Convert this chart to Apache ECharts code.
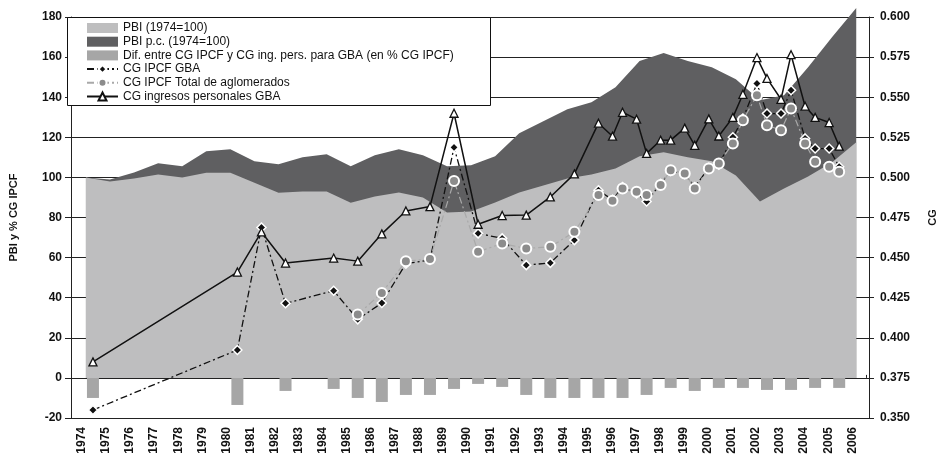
<!DOCTYPE html>
<html><head><meta charset="utf-8">
<script src="https://cdn.jsdelivr.net/npm/echarts@6/dist/echarts.min.js"></script>
<style>html,body{margin:0;padding:0;background:#fff}#c{width:948px;height:468px}</style>
</head><body><div id="c"></div>
<script>
// ---------- data ----------
const yearLabels = [1974,1975,1976,1977,1978,1979,1980,1981,1982,1983,1984,1985,1986,1987,1988,1989,1990,
  1991,1992,1993,1994,1995,1996,1997,1998,1999,2000,2001,2002,2003,2004,2005,2006];
const areaYears = yearLabels;
// upper (dark) area
const pbiPcValues = [100,99,102.5,107,105.5,113,114,108,106.5,110,111.5,105.5,111,114,111,105.5,106,110.5,
  122,128,134,137.5,145,158,162,158,155,149,138.5,141,155,170,184.5];
// lower (light) area
const pbiValues = [100,98,99.5,101.5,100,102.3,102.3,97.3,92.3,93,93,87.3,90.5,92.5,90,82.5,83,87.5,
  92.5,96,99.5,101.5,104.5,110.5,112.5,110,108,101,88,94.5,100.5,107.5,117.5];

const obsDates = ['1974-10','1980-10','1981-10','1982-10','1984-10','1985-10','1986-10','1987-10','1988-10',
  '1989-10','1990-10','1991-10','1992-10','1993-10','1994-10','1995-10',
  '1996-05','1996-10','1997-05','1997-10','1998-05','1998-10','1999-05','1999-10','2000-05','2000-10',
  '2001-05','2001-10','2002-05','2002-10','2003-05','2003-10','2004-05','2004-10','2005-05','2005-10'];
const cgIngPersGBA = [0.385,0.441,0.466,0.4466,0.4497,0.4478,0.4648,0.4791,0.4818,0.540,0.4708,0.4762,
  0.4765,0.4878,0.5022,0.5338,0.5257,0.5406,0.5363,0.515,0.5232,0.5232,0.5307,0.520,0.5365,0.5258,
  0.5374,0.5518,0.5747,0.5617,0.5487,0.5765,0.5444,0.5374,0.5342,0.5195];
const cgIpcfGBA = [0.355,0.3924,0.4688,0.4215,0.4293,0.4115,0.4217,0.4462,0.4485,0.5187,0.4651,0.4620,
  0.4453,0.4467,0.4609,0.492,0.486,0.494,0.490,0.485,0.496,0.504,0.502,0.494,0.506,0.508,
  0.525,0.5367,0.5585,0.5398,0.5398,0.5543,0.5243,0.518,0.518,0.5066];

const totalDates = ['1985-10','1986-10','1987-10','1988-10','1989-10','1990-10','1991-10','1992-10','1993-10',
  '1994-10','1995-10','1996-05','1996-10','1997-05','1997-10','1998-05','1998-10','1999-05','1999-10',
  '2000-05','2000-10','2001-05','2001-10','2002-05','2002-10','2003-05','2003-10','2004-05','2004-10',
  '2005-05','2005-10'];
const cgIpcfTotal = [0.4145,0.428,0.4478,0.4491,0.4978,0.4536,0.4588,0.4557,0.4567,0.4661,0.489,0.4854,
  0.4931,0.491,0.489,0.4952,0.5045,0.5025,0.4931,0.5056,0.5087,0.5212,0.5357,0.5512,0.5325,0.5294,
  0.543,0.5212,0.5097,0.5066,0.5035];

const difDates = ['1974-10','1980-10','1981-10','1982-10','1984-10','1985-10','1986-10','1987-10','1988-10',
  '1989-10','1990-10','1991-10','1992-10','1993-10','1994-10','1995-10','1996-10','1997-10','1998-10',
  '1999-10','2000-10','2001-10','2002-10','2003-10','2004-10','2005-10'];
const difValues = [-10,-13.5,0,-6.5,-5.5,-10,-12,-8.5,-8.5,-5.5,-3,-4.5,-8.5,-10,-10,-10,-10,-8.5,-5,
  -6.5,-5,-5,-6,-6,-5,-5];

const leftTicks = {min:-20, max:180, step:20};
const rightTicks = {min:0.35, max:0.6, step:0.025};

// ---------- helpers ----------
const toT = s => { const [y, m] = s.split('-').map(Number); return y + (m - 0.5) / 12; };
const LABEL_SHIFT = 0.335;
const FONT = 'Liberation Sans, Arial, sans-serif';
const LIGHT = '#bebebf', DARK = '#5f5f61', BAR = '#a6a6a6';

const names = {
  pbi: 'PBI (1974=100)',
  pbipc: 'PBI p.c. (1974=100)',
  dif: 'Dif. entre CG IPCF y CG ing. pers. para GBA (en % CG IPCF)',
  gba: 'CG IPCF GBA',
  tot: 'CG IPCF Total de aglomerados',
  ing: 'CG ingresos personales GBA'
};

const chart = echarts.init(document.getElementById('c'), null, {renderer:'canvas'});
const xMin = 1973.88, xMax = 2007.03;

chart.setOption({
  animation: false,
  backgroundColor: '#fff',
  grid: {left: 67, right: 79, top: 17, bottom: 50, containLabel: false},
  xAxis: [
    {type:'value', min:xMin, max:xMax, position:'bottom',
     axisLine:{show:true, onZero:false, lineStyle:{color:'#222', width:1}},
     axisTick:{show:false},
     splitLine:{show:false},
     axisLabel:{show:true, customValues: yearLabels.map(y => y + LABEL_SHIFT), rotate:90, margin:9,
       fontFamily:FONT, fontWeight:'bold', fontSize:12, color:'#111',
       formatter: v => String(Math.round(v - LABEL_SHIFT))}},
    {type:'value', min:xMin, max:xMax, position:'bottom',
     axisLine:{show:true, onZero:true, lineStyle:{color:'#222', width:1}},
     axisTick:{show:true, inside:true, length:3, customValues: yearLabels.map(y => y + 0.92), lineStyle:{color:'#222'}},
     axisLabel:{show:false}, splitLine:{show:false}}
  ],
  yAxis: [
    {type:'value', min:leftTicks.min, max:leftTicks.max, interval:leftTicks.step, position:'left',
     name:'PBI y % CG IPCF', nameLocation:'middle', nameRotate:90, nameGap:52,
     nameTextStyle:{fontFamily:FONT, fontWeight:'bold', fontSize:11, color:'#111'},
     axisLine:{show:true, lineStyle:{color:'#222', width:1}},
     axisTick:{show:true, length:6, lineStyle:{color:'#222'}},
     axisLabel:{margin:9, fontFamily:FONT, fontWeight:'bold', fontSize:12, color:'#111'},
     splitLine:{show:true, lineStyle:{color:'#222', width:1}}},
    {type:'value', min:rightTicks.min, max:rightTicks.max, interval:rightTicks.step, position:'right',
     name:'CG', nameLocation:'middle', nameRotate:90, nameGap:58,
     nameTextStyle:{fontFamily:FONT, fontWeight:'bold', fontSize:11, color:'#111'},
     axisLine:{show:true, lineStyle:{color:'#222', width:1}},
     axisTick:{show:true, length:5, lineStyle:{color:'#222'}},
     axisLabel:{margin:11, fontFamily:FONT, fontWeight:'bold', fontSize:12, color:'#111',
       formatter: v => v.toFixed(3)},
     splitLine:{show:false}}
  ],
  legend: {
    orient:'vertical', left:86, top:22, padding:0, itemGap:1.7, itemWidth:31, itemHeight:10,
    selectedMode:false,
    textStyle:{fontFamily:FONT, fontSize:12, color:'#111', lineHeight:11},
    data:[
      {name:names.pbi, icon:'rect'},
      {name:names.pbipc, icon:'rect'},
      {name:names.dif, icon:'rect'},
      names.gba, names.tot, names.ing
    ]
  },
  graphic: [
    {type:'rect', z:3, shape:{x:67.5, y:17.5, width:423, height:88},
     style:{fill:'#fff', stroke:'#111', lineWidth:1}}
  ],
  series: [
    {name:names.pbipc, type:'line', xAxisIndex:0, yAxisIndex:0, clip:false,
     data: areaYears.map((y,i) => [y + 0.5, pbiPcValues[i]]),
     symbol:'none', lineStyle:{width:0, color:DARK}, itemStyle:{color:DARK},
     areaStyle:{color:DARK, opacity:1}},
    {name:names.pbi, type:'line', xAxisIndex:0, yAxisIndex:0,
     data: areaYears.map((y,i) => [y + 0.5, pbiValues[i]]),
     symbol:'none', lineStyle:{width:0, color:LIGHT}, itemStyle:{color:LIGHT},
     areaStyle:{color:LIGHT, opacity:1}},
    {name:names.dif, type:'bar', xAxisIndex:0, yAxisIndex:0, barWidth:12,
     data: difDates.map((d,i) => [toT(d), difValues[i]]),
     itemStyle:{color:BAR}},
    {name:names.gba, type:'line', xAxisIndex:0, yAxisIndex:1,
     data: obsDates.map((d,i) => [toT(d), cgIpcfGBA[i]]),
     symbol:'diamond', symbolSize:9,
     lineStyle:{color:'#111', width:1.3, type:[7,3,2,3]},
     itemStyle:{color:'#111', borderColor:'#fff', borderWidth:1.5}},
    {name:names.tot, type:'line', xAxisIndex:0, yAxisIndex:1,
     data: totalDates.map((d,i) => [toT(d), cgIpcfTotal[i]]),
     symbol:'circle', symbolSize:10,
     lineStyle:{color:'#a9a9a9', width:1.2, type:[7,3,2,3]},
     itemStyle:{color:'#8c8c8c', borderColor:'#fff', borderWidth:2}},
    {name:names.ing, type:'line', xAxisIndex:0, yAxisIndex:1,
     data: obsDates.map((d,i) => [toT(d), cgIngPersGBA[i]]),
     symbol:'triangle', symbolSize:8,
     lineStyle:{color:'#111', width:1.5},
     itemStyle:{color:'#fff', borderColor:'#111', borderWidth:1.3}}
  ]
});
</script>
</body></html>
